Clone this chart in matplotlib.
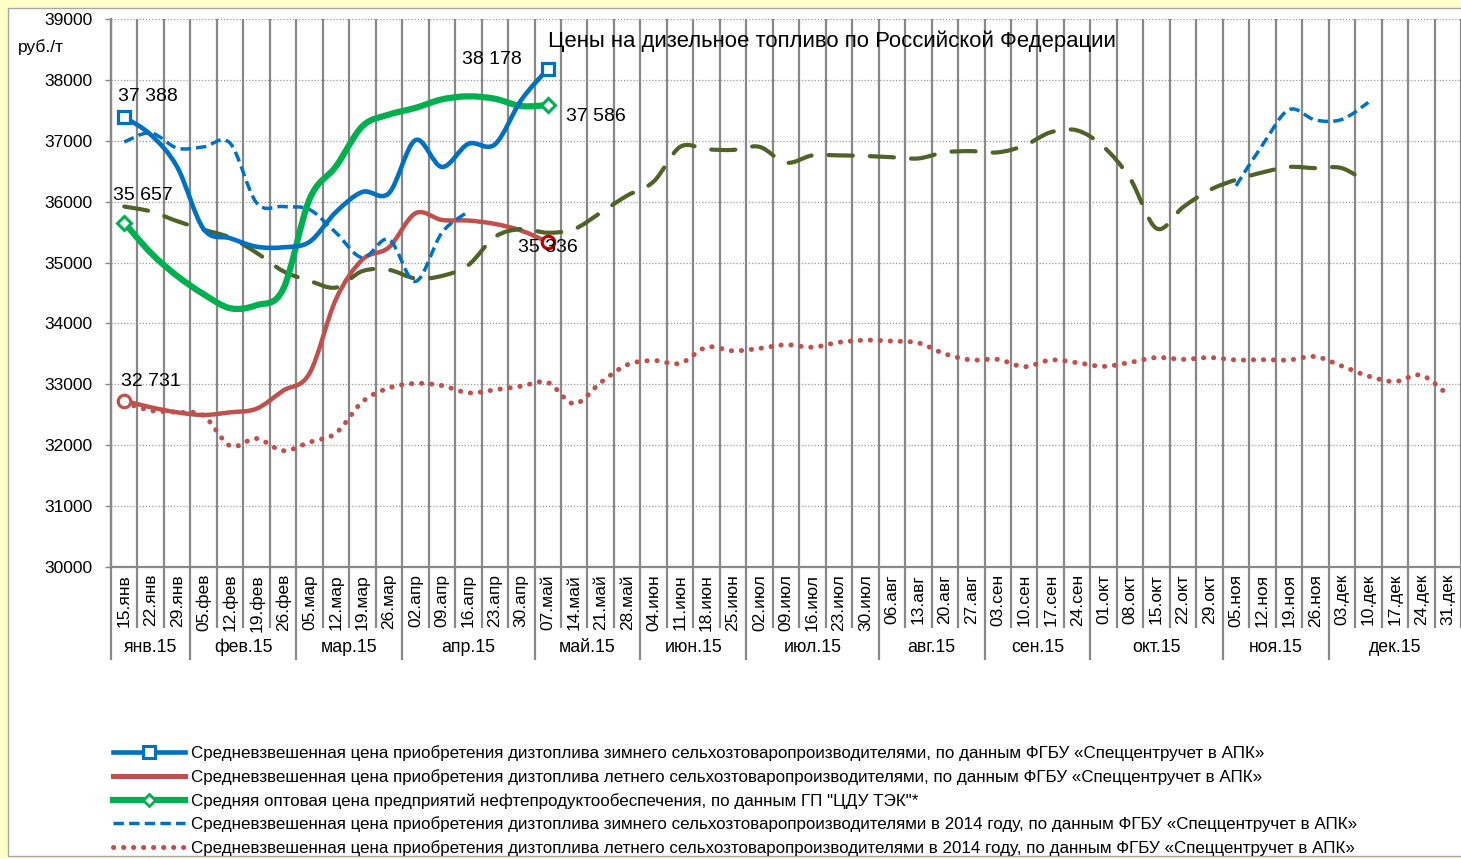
import numpy as np
import matplotlib
matplotlib.use('Agg')
import matplotlib.pyplot as plt
from matplotlib.path import Path
from matplotlib.patches import PathPatch, Rectangle
from matplotlib.lines import Line2D

plt.rcParams['font.family'] = ['Liberation Sans', 'DejaVu Sans']

nan = np.nan

# ----------------------
# Данные
# ----------------------
weeks = ['15.янв', '22.янв', '29.янв',
         '05.фев', '12.фев', '19.фев', '26.фев',
         '05.мар', '12.мар', '19.мар', '26.мар',
         '02.апр', '09.апр', '16.апр', '23.апр', '30.апр',
         '07.май', '14.май', '21.май', '28.май',
         '04.июн', '11.июн', '18.июн', '25.июн',
         '02.июл', '09.июл', '16.июл', '23.июл', '30.июл',
         '06.авг', '13.авг', '20.авг', '27.авг',
         '03.сен', '10.сен', '17.сен', '24.сен',
         '01.окт', '08.окт', '15.окт', '22.окт', '29.окт',
         '05.ноя', '12.ноя', '19.ноя', '26.ноя',
         '03.дек', '10.дек', '17.дек', '24.дек', '31.дек']
months = ['янв.15', 'фев.15', 'мар.15', 'апр.15', 'май.15', 'июн.15',
          'июл.15', 'авг.15', 'сен.15', 'окт.15', 'ноя.15', 'дек.15']
weeks_in_month = [3, 4, 4, 5, 4, 4, 5, 4, 4, 5, 4, 5]

# 2015 год (до 07.май)
winter_2015 = [37388, 37100, 36570, 35550, 35400, 35260, 35250, 35340, 35830,
               36160, 36140, 37010, 36570, 36950, 36940, 37670, 38178]
summer_2015 = [32731, 32623, 32540, 32497, 32540, 32600, 32895, 33180, 34400,
               35050, 35250, 35810, 35700, 35690, 35635, 35525, 35336]
wholesale_2015 = [35657, 35160, 34780, 34480, 34250, 34300, 34560, 36040, 36580,
                  37240, 37430, 37540, 37680, 37730, 37690, 37570, 37586]

# 2014 год
winter_2014 = ([36980, 37130, 36880, 36900, 36960, 35980, 35920, 35870, 35490,
                35080, 35380, 34690, 35490, 35840] + [nan] * 28 +
               [36260, 36930, 37510, 37340, 37350, 37630] + [nan] * 3)
summer_2014 = [32700, 32570, 32540, 32485, 31990, 32110, 31910, 32050, 32200, 32715,
               32940, 33015, 32980, 32860, 32910, 32970, 33030, 32680, 33030, 33320,
               33390, 33345, 33610, 33550, 33590, 33650, 33610, 33690, 33725, 33710,
               33680, 33500, 33400, 33410, 33290, 33400, 33355, 33295, 33360, 33440,
               33410, 33440, 33400, 33405, 33400, 33455, 33300, 33135, 33045, 33150,
               32830]
wholesale_2014 = [35920, 35840, 35680, 35540, 35410, 35160, 34860, 34700, 34590, 34860,
                  34880, 34740, 34780, 34960, 35420, 35550, 35490, 35550, 35820, 36100,
                  36330, 36900, 36860, 36850, 36900, 36640, 36760, 36760, 36750, 36730,
                  36710, 36810, 36830, 36810, 36920, 37140, 37170, 36900, 36380, 35560,
                  35910, 36190, 36360, 36480, 36570, 36550, 36550, 36300] + [nan] * 3

legend_labels = [
    'Средневзвешенная цена приобретения дизтоплива зимнего сельхозтоваропроизводителями, '
    'по данным ФГБУ «Спеццентручет в АПК»',
    'Средневзвешенная цена приобретения дизтоплива летнего сельхозтоваропроизводителями, '
    'по данным ФГБУ «Спеццентручет в АПК»',
    'Средняя оптовая цена предприятий нефтепродуктообеспечения, по данным ГП "ЦДУ ТЭК"*',
    'Средневзвешенная цена приобретения дизтоплива зимнего сельхозтоваропроизводителями '
    'в 2014 году, по данным ФГБУ «Спеццентручет в АПК»',
    'Средневзвешенная цена приобретения дизтоплива летнего сельхозтоваропроизводителями '
    'в 2014 году, по данным ФГБУ «Спеццентручет в АПК»',
]

BLUE = '#0070C0'
RED = '#C0504D'
GREEN = '#00B050'
OLIVE = '#4F6228'
GRID = '#888888'


# ----------------------
# Сглаженная линия как в Excel (кубические Безье)
# ----------------------
def smooth_path(xs, ys):
    pts = np.column_stack([xs, ys]).astype(float)
    n = len(pts)
    verts = [pts[0]]
    codes = [Path.MOVETO]
    for i in range(n - 1):
        p0 = pts[i - 1] if i > 0 else pts[i]
        p1, p2 = pts[i], pts[i + 1]
        p3 = pts[i + 2] if i + 2 < n else pts[i + 1]
        verts += [p1 + (p2 - p0) / 6, p2 - (p3 - p1) / 6, p2]
        codes += [Path.CURVE4] * 3
    return Path(verts, codes)


def draw_smooth(ax, values, **kw):
    y = np.asarray(values, dtype=float)
    x = np.arange(len(y))
    ok = ~np.isnan(y)
    start = None
    for i in range(len(y) + 1):
        if i < len(y) and ok[i]:
            if start is None:
                start = i
        elif start is not None:
            if i - start > 1:
                ax.add_patch(PathPatch(smooth_path(x[start:i], y[start:i]),
                                       fill=False, **kw))
            start = None


W, H = 1461, 859
fig = plt.figure(figsize=(W / 100, H / 100), dpi=100, facecolor='#FFFFC8')
fig.add_artist(Rectangle((8 / W, 1 - 856 / H), 1.0, 848 / H, transform=fig.transFigure,
                         facecolor='white', edgecolor='#A6A6A6', lw=1, zorder=-5))

ax = fig.add_axes([111 / W, 1 - 567 / H, 1350 / W, 548 / H])
n = len(weeks)
ax.set_xlim(-0.5, n - 0.5)
ax.set_ylim(30000, 39000)

# сетка
ax.set_yticks(np.arange(30000, 39001, 1000))
ax.yaxis.grid(True, linestyle=(0, (1, 1.5)), color='#9A9A9A', lw=0.9)
ax.set_axisbelow(True)
for s in ['top', 'right']:
    ax.spines[s].set_visible(False)
ax.spines['left'].set_color(GRID)
ax.spines['left'].set_linewidth(1.6)
ax.spines['bottom'].set_color(GRID)
ax.spines['bottom'].set_linewidth(1.6)
ax.tick_params(axis='y', length=4, width=1, color=GRID, pad=9, labelsize=12.5)

ax.set_xticks(np.arange(n))
ax.set_xticklabels(weeks, rotation=90, fontsize=12.5, va='top')
ax.tick_params(axis='x', length=0, pad=5)

# вертикальные линии между неделями и месяцами
bounds = np.arange(n) + 0.5
month_starts = np.cumsum([0] + weeks_in_month)
month_bounds = month_starts[1:-1] - 0.5
week_bounds = np.array([b for b in bounds if b not in month_bounds])
xt = ax.get_xaxis_transform()
ax.vlines(week_bounds, -0.112, 1, transform=xt, color=GRID, lw=1.6, clip_on=False, zorder=1)
ax.vlines(month_bounds, -0.17, 1, transform=xt, color=GRID, lw=1.6, clip_on=False, zorder=1)
ax.vlines([-0.5], -0.17, 1, transform=xt, color=GRID, lw=1.6, clip_on=False, zorder=1)

for name, s, c in zip(months, month_starts[:-1], weeks_in_month):
    ax.text(s + (c - 1) / 2, -0.146, name, transform=xt, ha='center', va='center',
            fontsize=12.8)

# ----------------------
# Линии
# ----------------------
draw_smooth(ax, summer_2014, edgecolor=RED, lw=3.6, linestyle=(0, (0.05, 1.95)),
            capstyle='round', zorder=2)
draw_smooth(ax, summer_2015, edgecolor=RED, lw=3.2, capstyle='round', zorder=3)
draw_smooth(ax, wholesale_2014, edgecolor=OLIVE, lw=3, linestyle=(0, (5.8, 4.1)),
            capstyle='round', zorder=4)
draw_smooth(ax, winter_2014, edgecolor=BLUE, lw=2.5, linestyle=(0, (3, 1.5)),
            capstyle='butt', zorder=5)
draw_smooth(ax, wholesale_2015, edgecolor=GREEN, lw=4.5, capstyle='round', zorder=6)
draw_smooth(ax, winter_2015, edgecolor=BLUE, lw=3.3, capstyle='round', zorder=7)

ends = [0, len(winter_2015) - 1]
ax.plot(ends, [winter_2015[i] for i in ends], ls='none', marker='s', ms=8.5,
        mfc='white', mec=BLUE, mew=2.3, zorder=8)
ax.plot(ends, [wholesale_2015[i] for i in ends], ls='none', marker='D', ms=7,
        mfc='white', mec=GREEN, mew=2.2, zorder=8)
ax.plot([0], [summer_2015[0]], ls='none', marker='o', ms=9, mfc='white',
        mec=RED, mew=2.3, zorder=8)
ax.plot([ends[1]], [summer_2015[-1]], ls='none', marker='o', ms=9, mfc='white',
        mec='#C00000', mew=2.3, zorder=8)


# подписи значений
def value_label(series, i, dx, dy):
    v = series[i]
    ax.annotate(f'{v // 1000} {v % 1000:03d}', (i, v), xytext=(dx * 0.72, dy * 0.72),
                textcoords='offset points', ha='center', va='center',
                fontsize=14, zorder=9)


last = len(winter_2015) - 1
value_label(winter_2015, 0, 24, 21)
value_label(winter_2015, last, -56, 10)
value_label(wholesale_2015, 0, 19, 27)
value_label(wholesale_2015, last, 48, -11)
value_label(summer_2015, 0, 27, 19)
value_label(summer_2015, last, 0, -5)

fig.text(548 / W, 1 - 41 / H, 'Цены на дизельное топливо по Российской Федерации',
         ha='left', va='center', fontsize=15.9)
fig.text(18 / W, 1 - 47 / H, 'руб./т', ha='left', va='center', fontsize=12.5)

# ----------------------
# Легенда
# ----------------------
handles = [
    Line2D([], [], color=BLUE, lw=3.3, marker='s', ms=8, mfc='white', mec=BLUE, mew=2.2),
    Line2D([], [], color=RED, lw=3.6),
    Line2D([], [], color=GREEN, lw=4.5, marker='D', ms=6.5, mfc='white', mec=GREEN, mew=2),
    Line2D([], [], color=BLUE, lw=2.5, linestyle=(0, (3, 1.5))),
    Line2D([], [], color=RED, lw=3.6, linestyle=(0, (0.05, 1.95)), dash_capstyle='round'),
]
fig.legend(handles, legend_labels, loc='upper left', bbox_to_anchor=(113 / W, 1 - 745 / H),
           frameon=False, fontsize=12.25, handlelength=4.25, handletextpad=0.33,
           labelspacing=0.47, borderpad=0, borderaxespad=0, numpoints=1)

plt.savefig('out.png', dpi=100, facecolor=fig.get_facecolor())
